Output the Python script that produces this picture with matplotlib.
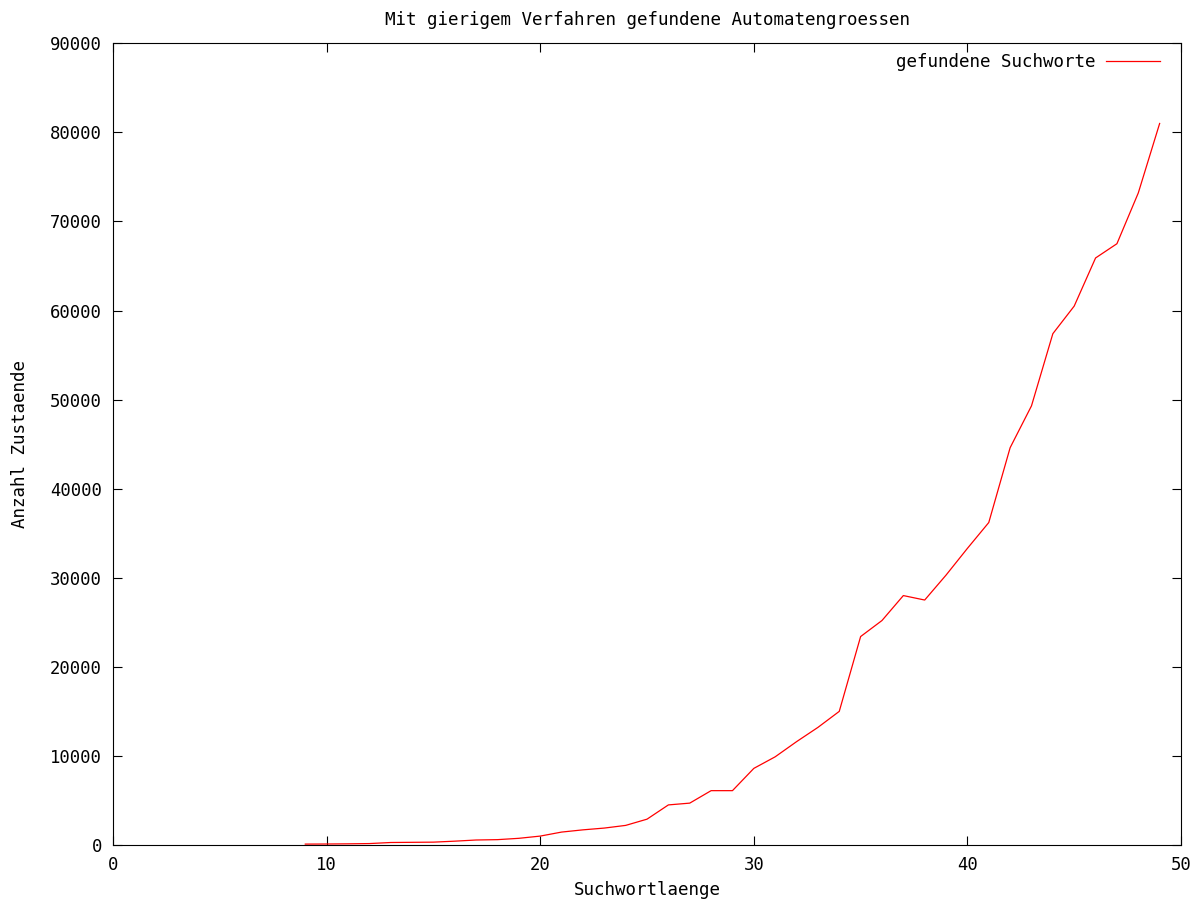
import numpy as np
import matplotlib
matplotlib.use("Agg")
import matplotlib.pyplot as plt

# Suchwortlaenge vs. Anzahl Zustaende
laenge = [9, 10, 11, 12, 13, 14, 15, 16, 17, 18, 19, 20, 21, 22, 23, 24, 25,
          26, 27, 28, 29, 30, 31, 32, 33, 34, 35, 36, 37, 38, 39, 40, 41, 42,
          43, 44, 45, 46, 47, 48, 49]
zustaende = [100, 110, 130, 160, 280, 300, 320, 430, 560, 600, 750, 1000,
             1450, 1700, 1900, 2200, 2900, 4500, 4700, 6100, 6100, 8600,
             9900, 11600, 13200, 15000, 23400, 25200, 28000, 27500, 30300,
             33300, 36200, 44600, 49300, 57400, 60500, 65900, 67500, 73200,
             81000]

plt.rcParams['font.family'] = ['DejaVu Sans Mono']
plt.rcParams['font.size'] = 12.6

fig = plt.figure(figsize=(12.04, 9.02), dpi=100)
ax = fig.add_axes([0.0939, 0.0632, 0.8870, 0.8888])

ax.plot(laenge, zustaende, color='red', linewidth=0.9, label='gefundene Suchworte')

ax.set_xlim(0, 50)
ax.set_ylim(0, 90000)
ax.set_xticks(np.arange(0, 51, 10))
ax.set_yticks(np.arange(0, 90001, 10000))
ax.tick_params(direction='in', top=True, right=True, length=6.5, width=0.8,
               pad=8, labelsize=12.4)

for s in ax.spines.values():
    s.set_linewidth(0.8)

ax.set_title("Mit gierigem Verfahren gefundene Automatengroessen",
             fontsize=12.6, pad=13)
ax.set_xlabel("Suchwortlaenge", labelpad=5)
ax.set_ylabel("Anzahl Zustaende", labelpad=15.5)

ax.legend(loc='upper right', frameon=False, markerfirst=False,
          handlelength=3.1, handletextpad=0.6, borderaxespad=0,
          bbox_to_anchor=(1 - 0.0131, 1 - 0.0032))

fig.savefig("out.png", dpi=100)
